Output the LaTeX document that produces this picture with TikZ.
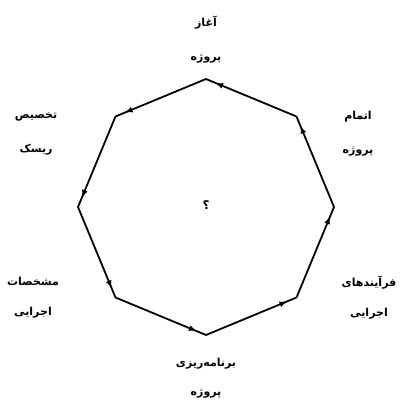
\documentclass[tikz,border=0pt]{standalone}
\usepackage{fontspec}
\newfontfamily\arabicfont[Script=Arabic]{DejaVu Sans}
\TeXXeTstate=1
\usetikzlibrary{calc, arrows.meta, decorations.markings}

\tikzset{
    edge/.style={line width=1.8pt, postaction={decorate},
        decoration={markings, mark=at position 0.9 with {\arrow{Latex[length=8pt,width=6pt]}}}},
    phase/.style={align=center, font=\arabicfont\bfseries\fontsize{11pt}{34pt}\selectfont}
}

\begin{document}
\begin{tikzpicture}[x=1pt, y=-1pt]
    % Frame of the picture
    \useasboundingbox (0,0) rectangle (401,401);

    % Corners of the octagon
    \foreach \i in {0,...,7}
        \coordinate (v\i) at ({206+128*cos(90+45*\i)}, {207-128*sin(90+45*\i)});

    % Sides, running round the cycle
    \foreach \i [evaluate=\i as \j using {int(mod(\i+1,8))}] in {0,...,7}
        \draw[edge] (v\i) -- (v\j);

    % Phases round the cycle
    \node[phase] (start) at (206,40) {\beginR آغاز\endR\\\beginR پروژه\endR};
    \node[phase] (finish) at (358,134) {\beginR اتمام\endR\\\beginR پروژه\endR};
    \node[phase] (process) at (369,298) {\beginR فرآیندهای\endR\\[-4pt]\beginR اجرایی\endR};
    \node[phase] (plan) at (206,378) {\beginR برنامه‌ریزی\endR\\[-5pt]\beginR پروژه\endR};
    \node[phase] (spec) at (33,298) {\beginR مشخصات\endR\\[-4pt]\beginR اجرایی\endR};
    \node[phase] (risk) at (36,134) {\beginR تخصیص\endR\\\beginR ریسک\endR};

    % Centre
    \node[phase, font=\arabicfont\bfseries\fontsize{12pt}{14pt}\selectfont] (centre) at (206,205) {\beginR ؟\endR};
\end{tikzpicture}
\end{document}
